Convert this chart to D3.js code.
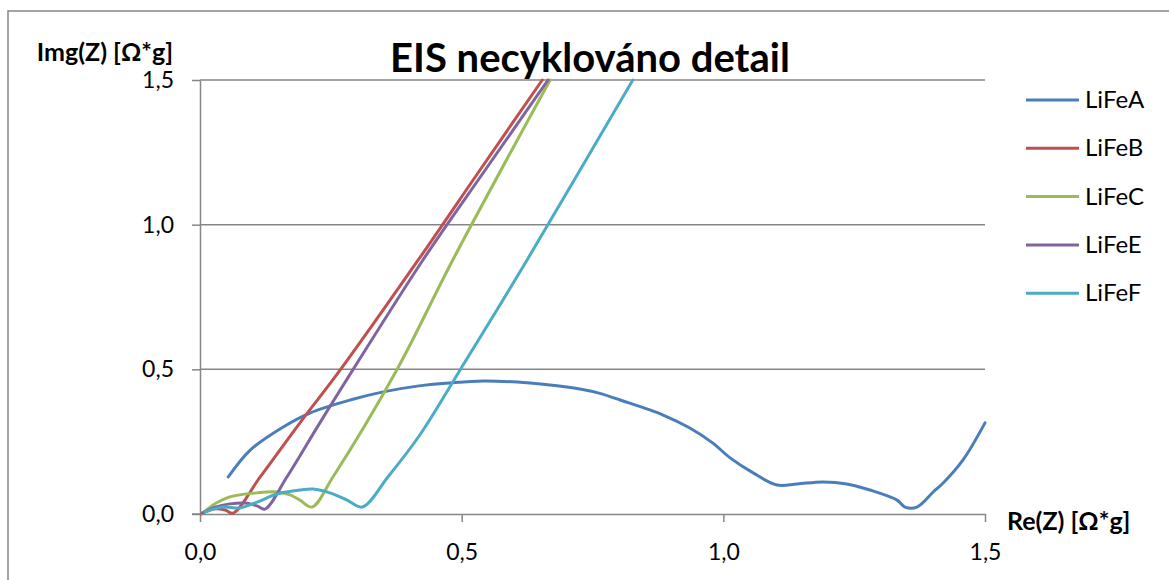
<!DOCTYPE html>
<html>
<head>
<meta charset="utf-8">
<script src="https://d3js.org/d3.v7.min.js"></script>
<style>
  body { margin: 0; background: #fff; }
  text { font-family: Lato, "Open Sans", sans-serif; fill: #000; }
  .axis .domain, .axis line { stroke: #868686; stroke-width: 1.5; }
  .grid line { stroke: #868686; stroke-width: 1.5; }
  .series { fill: none; stroke-width: 3; stroke-linejoin: round; stroke-linecap: round; }
</style>
</head>
<body>
<script>
// data: [Re, Img]
var seriesNames = ['LiFeA', 'LiFeB', 'LiFeC', 'LiFeE', 'LiFeF'];
var seriesColors = ['#4A7EBB', '#C0504D', '#9BBB59', '#8064A2', '#4BACC6'];
var lifeA = [[0.054,0.128],[0.096,0.221],[0.159,0.301],[0.210,0.349],[0.287,0.394],[0.350,0.422],
  [0.415,0.442],[0.478,0.453],[0.541,0.460],[0.606,0.456],[0.669,0.446],[0.726,0.432],[0.764,0.417],
  [0.803,0.394],[0.885,0.342],[0.936,0.297],[0.980,0.245],[1.013,0.194],[1.057,0.142],[1.103,0.100],
  [1.141,0.104],[1.191,0.111],[1.236,0.104],[1.280,0.083],[1.332,0.048],[1.347,0.024],[1.370,0.024],
  [1.401,0.076],[1.420,0.107],[1.458,0.187],[1.500,0.315]];
var lifeB = [[0.002,0.0],[0.023,0.017],[0.048,0.014],[0.063,0.003],[0.115,0.128],[0.191,0.315],
  [0.268,0.498],[0.417,0.878],[0.535,1.189],[0.654,1.5]];
var lifeC = [[0.004,0.0],[0.025,0.031],[0.057,0.059],[0.109,0.073],[0.147,0.076],[0.172,0.066],
  [0.191,0.048],[0.214,0.024],[0.254,0.128],[0.376,0.498],[0.483,0.878],[0.669,1.5]];
var lifeE = [[0.004,0.003],[0.029,0.024],[0.057,0.035],[0.086,0.038],[0.109,0.028],[0.124,0.017],
  [0.166,0.128],[0.229,0.315],[0.292,0.498],[0.426,0.878],[0.545,1.189],[0.665,1.5]];
var lifeF = [[0.010,0.007],[0.044,0.024],[0.076,0.021],[0.109,0.041],[0.147,0.069],[0.191,0.083],
  [0.216,0.086],[0.248,0.073],[0.281,0.048],[0.310,0.024],[0.359,0.128],[0.420,0.273],[0.497,0.498],
  [0.625,0.878],[0.827,1.5]];
var xTicks = [0, 0.5, 1.0, 1.5];
var yTicks = [0, 0.5, 1.0, 1.5];

var allSeries = [lifeA, lifeB, lifeC, lifeE, lifeF];
var w = 1169, h = 580;
var margin = {top: 80, left: 200, right: 184, bottom: 66};
var innerW = w - margin.left - margin.right, innerH = h - margin.top - margin.bottom;

var x = d3.scaleLinear().domain([0, 1.5]).range([0, innerW]);
var y = d3.scaleLinear().domain([0, 1.5]).range([innerH, 0]);
var fmt = function(d) { return d3.format('.1f')(d).replace('.', ','); };

var svg = d3.select('body').append('svg').attr('width', w).attr('height', h);

// outer chart frame
svg.append('rect').attr('x', 8).attr('y', 11).attr('width', w + 20).attr('height', h + 20)
  .attr('fill', 'none').attr('stroke', '#868686').attr('stroke-width', 1.5);

var g = svg.append('g').attr('transform', 'translate(' + [margin.left, margin.top] + ')');

g.append('g').attr('class', 'grid')
  .selectAll('line').data(yTicks.filter(function(d) { return d > 0; }))
  .enter().append('line')
  .attr('x1', 0).attr('x2', innerW)
  .attr('y1', function(d) { return y(d); }).attr('y2', function(d) { return y(d); });

var yAxis = g.append('g').attr('class', 'axis')
  .call(d3.axisLeft(y).tickValues(yTicks).tickFormat(fmt).tickSize(8).tickPadding(18).tickSizeOuter(0));
yAxis.selectAll('text').style('font-size', '23px');

var xAxis = g.append('g').attr('class', 'axis').attr('transform', 'translate(0,' + innerH + ')')
  .call(d3.axisBottom(x).tickValues(xTicks).tickFormat(fmt).tickSize(8).tickPadding(22).tickSizeOuter(0));
xAxis.selectAll('text').style('font-size', '23px');
// extend axis lines past the crossing like Excel
g.append('line').attr('x1', -8).attr('x2', 0).attr('y1', innerH).attr('y2', innerH)
  .attr('stroke', '#868686').attr('stroke-width', 1.5);

g.append('clipPath').attr('id', 'clip').append('rect')
  .attr('x', 0).attr('y', -2).attr('width', innerW + 2).attr('height', innerH + 4);

var line = d3.line().x(function(d) { return x(d[0]); }).y(function(d) { return y(d[1]); })
  .curve(d3.curveCatmullRom.alpha(0.5));

g.append('g').attr('clip-path', 'url(#clip)')
  .selectAll('path').data(allSeries)
  .enter().append('path')
  .attr('class', 'series')
  .attr('stroke', function(d, i) { return seriesColors[i]; })
  .attr('d', line);

svg.append('text').attr('x', 590).attr('y', 72).attr('text-anchor', 'middle')
  .style('font-size', '40px').style('font-weight', 'bold').text('EIS necyklováno detail');
svg.append('text').attr('x', 173).attr('y', 61).attr('text-anchor', 'end')
  .style('font-size', '25px').style('font-weight', 'bold').text('Img(Z) [Ω*g]');
svg.append('text').attr('x', 1007).attr('y', 530)
  .style('font-size', '25px').style('font-weight', 'bold').text('Re(Z) [Ω*g]');

var legend = svg.append('g').selectAll('g').data(seriesNames)
  .enter().append('g')
  .attr('transform', function(d, i) { return 'translate(1026,' + (100 + i * 48.3) + ')'; });
legend.append('line').attr('x1', 0).attr('x2', 53)
  .attr('stroke', function(d, i) { return seriesColors[i]; }).attr('stroke-width', 3);
legend.append('text').attr('x', 59).attr('y', 8).style('font-size', '24px').text(function(d) { return d; });
</script>
</body>
</html>
